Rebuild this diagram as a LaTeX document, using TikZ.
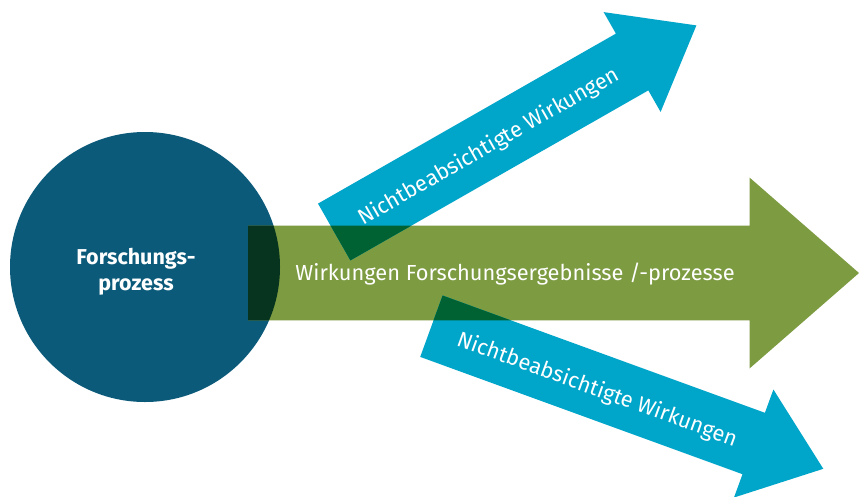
\documentclass[tikz,border=0pt]{standalone}
\usepackage{fontspec}
\setmainfont{Fira Sans}
\definecolor{cblue}{RGB}{11,90,122}
\definecolor{cgreen}{RGB}{125,155,65}
\definecolor{ccyan}{RGB}{0,165,202}
\definecolor{cdark}{RGB}{6,52,31}
\definecolor{cover}{RGB}{0,98,50}
\tikzset{
  lbl/.style={text=white, inner sep=0pt, font=\fontsize{21.8}{24}\selectfont},
  proclbl/.style={text=white, inner sep=0pt, align=center, font=\fontsize{21.5}{26}\selectfont\bfseries}
}
\newcommand{\greenpath}{(248,225.7) -- (749.5,225.7) -- (749.5,177.5) -- (859,273) -- (749.5,368.5) -- (749.5,320.3) -- (248,320.3) -- cycle}
\newcommand{\uppath}{(318.0,203.6) -- (615.9,33.6) -- (603.6,12.1) -- (696.4,25.4) -- (660.6,111.9) -- (648.3,90.4) -- (350.4,260.4) -- cycle}
\newcommand{\lowpath}{(442.6,295.5) -- (764.9,412.8) -- (773.4,389.5) -- (823.3,468.8) -- (734.0,497.5) -- (742.5,474.2) -- (420.2,356.9) -- cycle}
\newcommand{\circpath}{(145,267) circle[radius=135]}
\begin{document}
\begin{tikzpicture}[x=1pt,y=-1pt]
\useasboundingbox (0,0) rectangle (859,496);
\fill[white] (0,0) rectangle (859,496);
% circle
\fill[cblue] \circpath;
% green arrow
\fill[cgreen] \greenpath;
\begin{scope}
  \clip \circpath;
  \fill[cdark] \greenpath;
\end{scope}
% blue arrows
\fill[ccyan] \uppath;
\fill[ccyan] \lowpath;
\begin{scope}
  \clip \greenpath;
  \fill[cover] \uppath;
  \fill[cover] \lowpath;
\end{scope}
% labels
\node[proclbl] (proc) at (136,272) {Forschungs-\\prozess};
\node[lbl, anchor=base] (main) at (515,280) {Wirkungen Forschungsergebnisse /-prozesse};
\node[lbl, rotate=29.7] (up) at (489,147) {Nichtbeabsichtigte Wirkungen};
\node[lbl, rotate=-20] (low) at (597,390) {Nichtbeabsichtigte Wirkungen};
\end{tikzpicture}
\end{document}
